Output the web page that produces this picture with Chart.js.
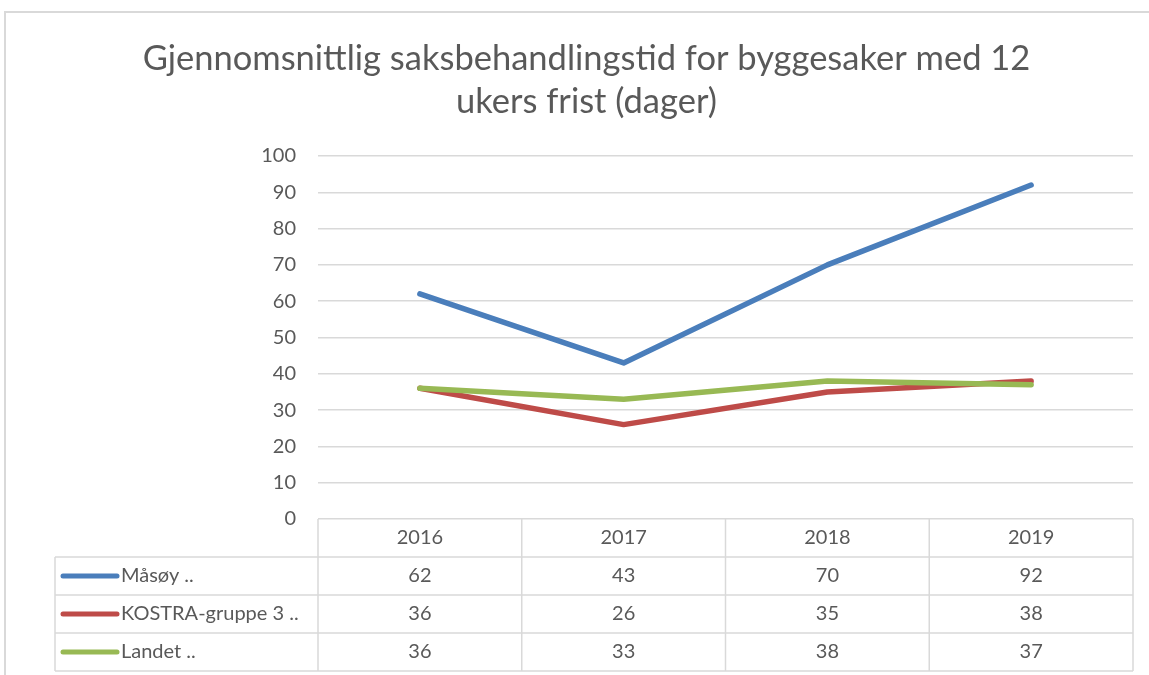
<!DOCTYPE html>
<html>
<head>
<meta charset="utf-8">
<script src="https://cdn.jsdelivr.net/npm/chart.js@4"></script>
<style>
  html, body { margin: 0; padding: 0; background: #fff; }
  #frame { position: absolute; left: 4px; top: 11px; width: 1160px; height: 700px;
           border-left: 2px solid #d9d9d9; border-top: 2px solid #d9d9d9; }
  #wrap { position: absolute; left: 0; top: 0; width: 1149px; height: 675px; }
</style>
</head>
<body>
<div id="frame"></div>
<div id="wrap"><canvas id="myChart"></canvas></div>
<script>
var years = ['2016', '2017', '2018', '2019'];
var seriesNames = ['Måsøy ..', 'KOSTRA-gruppe 3 ..', 'Landet ..'];
var masoy = [62, 43, 70, 92];
var kostra = [36, 26, 35, 38];
var landet = [36, 33, 38, 37];
var seriesColors = ['#4a7ebb', '#be4b48', '#98b954'];

var textColor = '#595959';
var gridColor = '#d9d9d9';
var fontFamily = 'Lato, "Open Sans", sans-serif';

// data table under the plot: header row with years, then one row per series
var dataTable = {
  id: 'dataTable',
  afterDraw: function(chart) {
    var c = chart.ctx;
    var area = chart.chartArea;
    var xs = chart.scales.x;
    var rowH = 38;
    var left = 55;
    var top = area.bottom;
    var colW = (area.right - area.left) / years.length;
    var rows = [masoy, kostra, landet];

    c.save();
    c.strokeStyle = gridColor;
    c.lineWidth = 1.5;
    c.beginPath();
    for (var r = 1; r <= rows.length + 1; r++) {
      c.moveTo(left, top + r * rowH);
      c.lineTo(area.right, top + r * rowH);
    }
    c.moveTo(left, top + rowH);
    c.lineTo(left, top + (rows.length + 1) * rowH);
    for (var i = 0; i <= years.length; i++) {
      var xb = area.left + i * colW;
      c.moveTo(xb, top);
      c.lineTo(xb, top + (rows.length + 1) * rowH);
    }
    c.stroke();

    c.fillStyle = textColor;
    c.font = '20px ' + fontFamily;
    c.textBaseline = 'middle';
    c.textAlign = 'center';
    years.forEach(function(y, i) {
      c.fillText(y, xs.getPixelForValue(i), top + rowH / 2);
    });
    rows.forEach(function(vals, r) {
      var cy = top + (r + 1.5) * rowH;
      c.textAlign = 'center';
      vals.forEach(function(v, i) {
        c.fillText(String(v), xs.getPixelForValue(i), cy);
      });
      // legend key
      c.strokeStyle = seriesColors[r];
      c.lineWidth = 5;
      c.lineCap = 'round';
      c.beginPath();
      c.moveTo(63, cy);
      c.lineTo(117, cy);
      c.stroke();
      c.textAlign = 'left';
      c.fillText(seriesNames[r], 121, cy);
    });
    c.restore();
  }
};

function lineSet(label, data, color, order) {
  return {
    label: label,
    data: data,
    borderColor: color,
    backgroundColor: color,
    borderWidth: 5.5,
    pointRadius: 0,
    tension: 0,
    fill: false,
    borderCapStyle: 'round',
    borderJoinStyle: 'round',
    order: order
  };
}

var ctx = document.getElementById('myChart');
var myChart = new Chart(ctx, {
  type: 'line',
  data: {
    labels: years,
    datasets: [
      lineSet(seriesNames[0], masoy, seriesColors[0], 1),
      lineSet(seriesNames[1], kostra, seriesColors[1], 2),
      lineSet(seriesNames[2], landet, seriesColors[2], 0)
    ]
  },
  options: {
    responsive: true,
    maintainAspectRatio: false,
    animation: false,
    events: [],
    layout: { padding: { top: 0, left: 40, right: 16, bottom: 156 } },
    plugins: {
      legend: { display: false },
      tooltip: { enabled: false },
      title: {
        display: true,
        text: ['Gjennomsnittlig saksbehandlingstid for byggesaker med 12', 'ukers frist (dager)'],
        color: textColor,
        font: { family: fontFamily, size: 34.5, weight: 'normal', lineHeight: 1.246 },
        padding: { top: 37, bottom: 33 }
      }
    },
    scales: {
      x: {
        type: 'category',
        offset: true,
        display: false
      },
      y: {
        min: 0,
        max: 100,
        ticks: { stepSize: 10, color: textColor, font: { family: fontFamily, size: 20 }, padding: 22 },
        grid: { color: gridColor, lineWidth: 1.5, drawTicks: false },
        border: { display: false },
        afterFit: function(scale) { scale.width = 278; }
      }
    }
  },
  plugins: [dataTable]
});
</script>
</body>
</html>
